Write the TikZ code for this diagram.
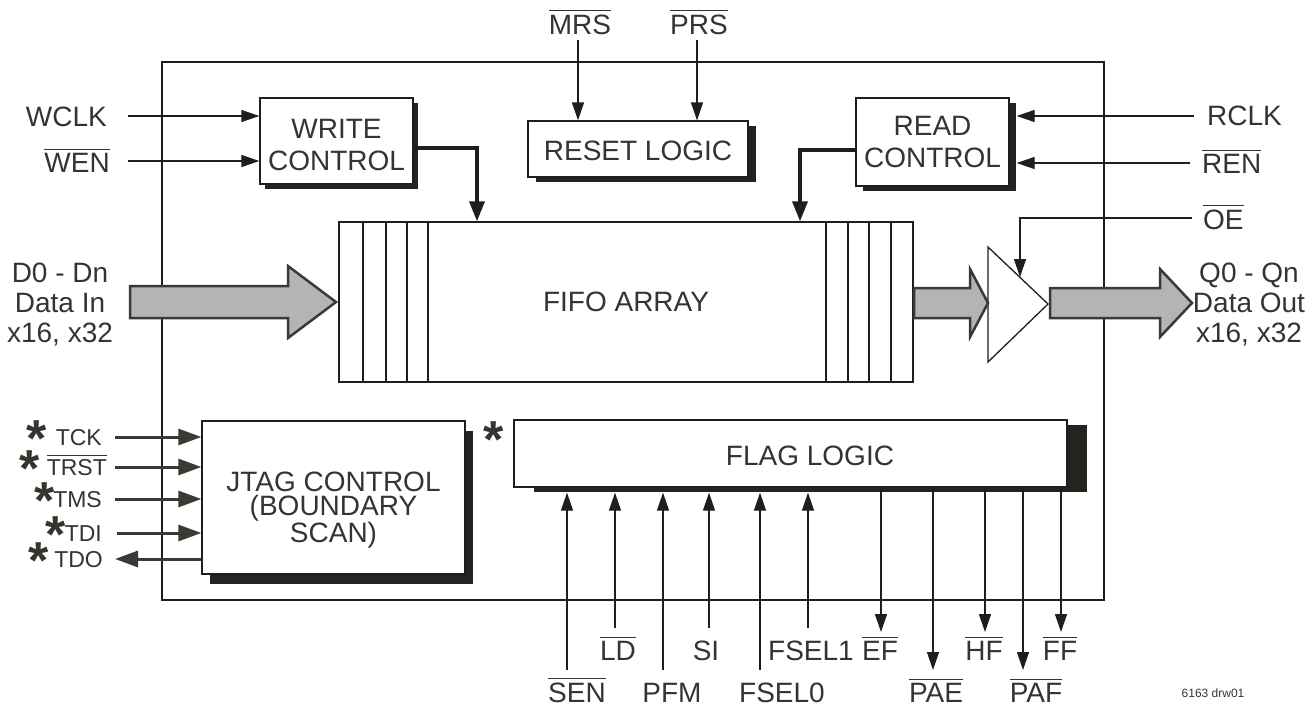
\documentclass[tikz,border=0pt]{standalone}
\usepackage{fontspec}
\setmainfont{Liberation Sans}
\usetikzlibrary{arrows.meta,shadows}
\definecolor{tc}{HTML}{35352F}
\definecolor{lc}{HTML}{1E1E1E}
\definecolor{shc}{HTML}{232320}
\definecolor{fatfill}{HTML}{B4B4B4}
\definecolor{fatline}{HTML}{3A3A35}
\newcommand\ovl[1]{\leavevmode\vbox{\hrule height 1.1pt\kern 3pt\hbox{#1}}}
\newcommand\pinstar[1]{\smash{\bfseries\fontsize{52}{52}\selectfont\raisebox{-11pt}{*}}\hspace{#1pt}}
\begin{document}
\begin{tikzpicture}[x=1pt,y=-1pt,
 lbl/.style={font=\fontsize{28}{30}\selectfont, text=tc, inner sep=0pt},
 small/.style={font=\fontsize{23}{26}\selectfont, text=tc, inner sep=0pt},
 starl/.style={font=\bfseries\fontsize{52}{52}\selectfont, text=tc, inner sep=0pt},
 blk/.style={draw=lc, line width=1.3pt, fill=white, inner sep=0pt, align=center, font=\fontsize{28}{32.5}\selectfont, text=tc},
 blktxt/.style={inner sep=0pt, align=center, text=tc},
 shad/.style 2 args={drop shadow={shadow xshift=#1pt, shadow yshift=-#2pt, opacity=1, fill=shc}},
 wire/.style={draw=lc, line width=1.3pt},
 sig/.style={wire, -{Triangle[length=18pt,width=12pt]}},
 bus/.style={draw=lc, line width=3.5pt, -{Triangle[length=20pt,width=15pt]}},
 jt/.style={draw=fatline, line width=3pt, -{Triangle[length=23pt,width=16pt]}},
 fat/.style={draw=fatline, fill=fatfill, line width=2.5pt, line join=miter},
]
\useasboundingbox (0,0) rectangle (1315,707);
\fill[white] (0,0) rectangle (1315,707);

% chip outline
\node[draw=lc, line width=1.3pt, minimum width=942pt, minimum height=538pt, inner sep=0pt] (chip) at (633,331) {};

% blocks
\node[blk, shad={5}{5}, minimum width=153pt, minimum height=86pt] (wctrl) at (336.5,141) {};
\node[blktxt, font=\fontsize{28}{32.5}\selectfont] (wtxt) at (336.5,145) {WRITE\\CONTROL};
\node[blk, shad={8}{5}, minimum width=220pt, minimum height=56pt] (reset) at (638,149) {};
\node[blktxt, font=\fontsize{28}{32.5}\selectfont] (rstxt) at (638,151) {RESET LOGIC};
\node[blk, shad={7}{5}, minimum width=153pt, minimum height=88pt] (rctrl) at (932.5,142) {READ\\CONTROL};
\node[blk, minimum width=574pt, minimum height=160pt] (fifo) at (626,302) {FIFO ARRAY};
\foreach \x in {363,386,407,428,826,848,869,891} \draw[wire] (\x,222) -- (\x,382);
\node[blk, shad={8}{10}, minimum width=263pt, minimum height=153pt] (jtag) at (333.5,497.5) {};
\node[blktxt, font=\fontsize{28}{23.5}\selectfont] (jtxt) at (333.5,510) {JTAG CONTROL\\(BOUNDARY\\SCAN)};
\node[blk, shad={20}{5}, minimum width=553pt, minimum height=67pt] (flag) at (790.5,453.5) {};
\node[blktxt, font=\fontsize{28}{30}\selectfont] (ftxt) at (810,456) {FLAG LOGIC};
\node[starl, anchor=base] (fstar) at (494,457) {*};

% write side inputs
\node[lbl, anchor=base east] (wclk) at (107,126) {WCLK};
\node[lbl, anchor=base east] (wen) at (110,172) {\ovl{WEN}};
\coordinate (wclkS) at (128,116);
\coordinate (wenS) at (128,161);
\draw[sig] (wclkS) -- (wclkS -| wctrl.west);
\draw[sig] (wenS) -- (wenS -| wctrl.west);
\coordinate (wb) at (477,148);
\draw[bus] (wctrl.east |- wb) -- (wb) -- (wb |- fifo.north);

% reset inputs
\node[lbl, anchor=base] (mrs) at (580,34) {\ovl{MRS}};
\node[lbl, anchor=base] (prs) at (699,34) {\ovl{PRS}};
\coordinate (mrsS) at (578,40);
\coordinate (prsS) at (697,40);
\draw[sig] (mrsS) -- (mrsS |- reset.north);
\draw[sig] (prsS) -- (prsS |- reset.north);

% read side inputs
\node[lbl, anchor=base west] (rclk) at (1207,125) {RCLK};
\node[lbl, anchor=base west] (ren) at (1202,173) {\ovl{REN}};
\coordinate (rclkS) at (1194,116);
\coordinate (renS) at (1190,163);
\coordinate (rsh) at ([xshift=7pt]rctrl.east);
\draw[sig] (rclkS) -- (rclkS -| rsh);
\draw[sig] (renS) -- (renS -| rsh);
\coordinate (rb) at (800,150);
\draw[bus] (rctrl.west |- rb) -- (rb) -- (rb |- fifo.north);

% output enable and buffer
\draw[wire, fill=white] (988,247) -- (1048,304) -- (988,362) -- cycle;
\node[lbl, anchor=base west] (oe) at (1203,229) {\ovl{OE}};
\coordinate (oeS) at (1192,218);
\coordinate (oeT) at (1020,277);
\draw[sig] (oeS) -- (oeS -| oeT) -- (oeT);

% fat data arrows
\draw[fat] (130,286) -- (288,286) -- (288,266) -- (336,302) -- (288,338) -- (288,318) -- (130,318) -- cycle;
\draw[fat] (914,288) -- (970,288) -- (970,269) -- (988,303) -- (970,337) -- (970,318) -- (914,318) -- cycle;
\draw[fat] (1050,288) -- (1160,288) -- (1160,269) -- (1192,303) -- (1160,337) -- (1160,318) -- (1050,318) -- cycle;

\node[lbl, anchor=base] (din1) at (60,282) {D0 - Dn};
\node[lbl, anchor=base] (din2) at (60,312) {Data In};
\node[lbl, anchor=base] (din3) at (60,342) {x16, x32};
\node[lbl, anchor=base] (qout1) at (1249,282) {Q0 - Qn};
\node[lbl, anchor=base] (qout2) at (1249,312) {Data Out};
\node[lbl, anchor=base] (qout3) at (1249,342) {x16, x32};

% JTAG pins
\node[small, anchor=base east] (tck) at (102,445) {\pinstar{9}TCK};
\node[small, anchor=base east] (trst) at (107,475) {\pinstar{7}\ovl{TRST}};
\node[small, anchor=base east] (tms) at (102,507) {\pinstar{-1}TMS};
\node[small, anchor=base east] (tdi) at (102,541) {\pinstar{-1}TDI};
\node[small, anchor=base east] (tdo) at (103,567) {\pinstar{6}TDO};
\coordinate (tckS) at (115,437);
\coordinate (trstS) at (115,467);
\coordinate (tmsS) at (115,499);
\coordinate (tdiS) at (117,533);
\coordinate (tdoE) at (115,559);
\draw[jt] (tckS) -- (tckS -| jtag.west);
\draw[jt] (trstS) -- (trstS -| jtag.west);
\draw[jt] (tmsS) -- (tmsS -| jtag.west);
\draw[jt] (tdiS) -- (tdiS -| jtag.west);
\draw[jt] (tdoE -| jtag.west) -- (tdoE);

% flag pins
\coordinate (flagsh) at ([yshift=-5pt]flag.south);
\foreach \x/\n/\yb in {567/sen/670, 615/ld/628, 663/pfm/670, 709/si/628, 760/fsa/670, 808/fsb/628}{
  \coordinate (\n) at (\x,\yb);
  \draw[sig] (\n) -- (\n |- flagsh);
}
\foreach \x/\n/\yb in {881/ef/632, 933/pae/670, 985/hf/632, 1023/paf/670, 1061/ff/632}{
  \coordinate (\n) at (\x,\yb);
  \draw[sig] (\n |- flag.south) -- (\n);
}
\node[lbl, anchor=base] (lsen) at (577,702) {\ovl{SEN}};
\node[lbl, anchor=base] (lld) at (618,660) {\ovl{LD}};
\node[lbl, anchor=base] (lpfm) at (672,702) {PFM};
\node[lbl, anchor=base] (lsi) at (706,660) {SI};
\node[lbl, anchor=base] (lfs0) at (782,702) {FSEL0};
\node[lbl, anchor=base] (lfs1) at (811,660) {FSEL1};
\node[lbl, anchor=base] (lef) at (880,660) {\ovl{EF}};
\node[lbl, anchor=base] (lpae) at (936,702) {\ovl{PAE}};
\node[lbl, anchor=base] (lhf) at (984,660) {\ovl{HF}};
\node[lbl, anchor=base] (lpaf) at (1036,702) {\ovl{PAF}};
\node[lbl, anchor=base] (lff) at (1060,660) {\ovl{FF}};

\node[font=\fontsize{12}{14}\selectfont, text=tc, inner sep=0pt, anchor=base] (drw) at (1213,697) {6163 drw01};
\end{tikzpicture}
\end{document}
